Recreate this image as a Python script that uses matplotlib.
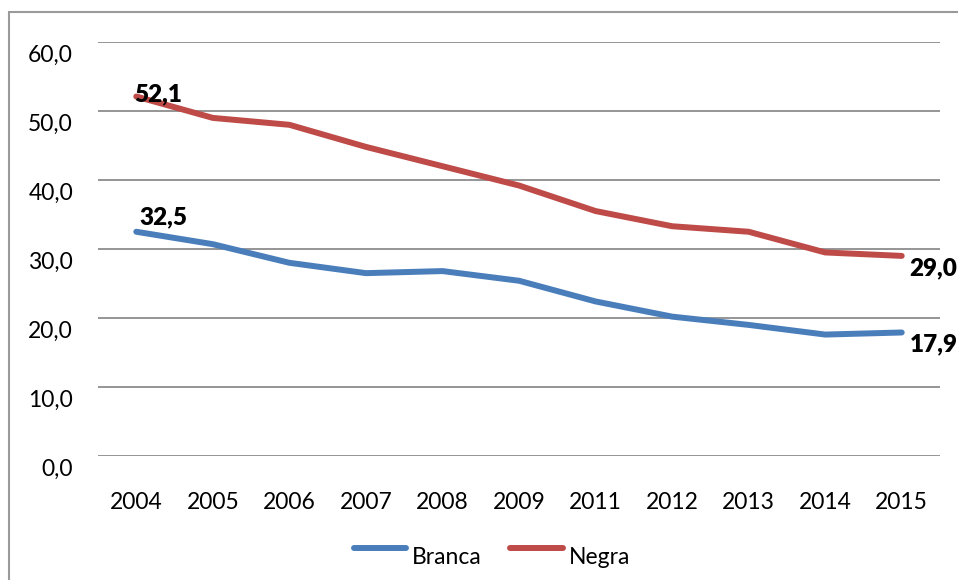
import matplotlib
matplotlib.use('Agg')
import matplotlib.pyplot as plt
import matplotlib.transforms as mtransforms
from matplotlib.lines import Line2D
from matplotlib.patches import Rectangle

years = ['2004', '2005', '2006', '2007', '2008', '2009', '2011', '2012', '2013', '2014', '2015']
branca = [32.5, 30.7, 28.0, 26.5, 26.8, 25.4, 22.4, 20.2, 19.0, 17.6, 17.9]
negra = [52.1, 49.0, 48.0, 44.8, 42.0, 39.2, 35.5, 33.3, 32.5, 29.5, 29.0]
y_ticks = [0, 10, 20, 30, 40, 50, 60]

BLUE = '#4A7EBB'
RED = '#BE4B48'
GRID = '#8C8C8C'

plt.rcParams['font.family'] = ['Lato', 'DejaVu Sans']

fig = plt.figure(figsize=(9.58, 5.8), dpi=100)
ax = fig.add_axes([98 / 958, 124 / 580, 842 / 958, 414 / 580])

x = list(range(len(years)))
ax.plot(x, branca, color=BLUE, lw=4.3, solid_capstyle='round', solid_joinstyle='round', zorder=3)
ax.plot(x, negra, color=RED, lw=4.3, solid_capstyle='round', solid_joinstyle='round', zorder=3)

ax.set_xlim(-0.5, len(years) - 0.5)
ax.set_ylim(0, 60)
ax.set_yticks(y_ticks)
ax.set_yticklabels([f'{v:.1f}'.replace('.', ',') for v in y_ticks])
ax.set_xticks(x)
ax.set_xticklabels(years)
ax.tick_params(axis='both', length=0, labelsize=16.5, colors='black')
ax.tick_params(axis='y', pad=18)
ax.tick_params(axis='x', pad=26)

# Excel-style: value labels sit a bit below their gridlines
shift = mtransforms.ScaledTranslation(0, -11 / 100, fig.dpi_scale_trans)
for lab in ax.get_yticklabels():
    lab.set_transform(lab.get_transform() + shift)

ax.grid(axis='y', color=GRID, lw=1.3)
ax.set_axisbelow(True)
for s in ax.spines.values():
    s.set_visible(False)

# data labels on first and last points
def px(v):
    return v * 0.72

lab_kw = dict(textcoords='offset points', ha='left', va='center', fontsize=17.5,
              fontweight='heavy', annotation_clip=False)
ax.annotate(f'{negra[0]:.1f}'.replace('.', ','), (x[0], negra[0]), xytext=(px(-2), px(2)),
            zorder=4, **lab_kw)
ax.annotate(f'{branca[0]:.1f}'.replace('.', ','), (x[0], branca[0]), xytext=(px(3), px(14)), **lab_kw)
ax.annotate(f'{negra[-1]:.1f}'.replace('.', ','), (x[-1], negra[-1]), xytext=(px(8), px(-12)), **lab_kw)
ax.annotate(f'{branca[-1]:.1f}'.replace('.', ','), (x[-1], branca[-1]), xytext=(px(8), px(-12)), **lab_kw)

# legend
W, H = 958, 580
for x0, x1, col, name in [(354, 406, BLUE, 'Branca'), (510, 563, RED, 'Negra')]:
    fig.add_artist(Line2D([x0 / W, x1 / W], [1 - 548 / H, 1 - 548 / H], color=col, lw=4.3,
                          solid_capstyle='round'))
    fig.text((x1 + 6) / W, 1 - 558 / H, name, fontsize=16.5, ha='left', va='center')

# chart area border
fig.add_artist(Rectangle((9 / W, -0.5), 2, 1.5 - 12 / H, transform=fig.transFigure,
                         fill=False, edgecolor='#9A9A9A', lw=1.5))

fig.savefig('out.png', dpi=100)
